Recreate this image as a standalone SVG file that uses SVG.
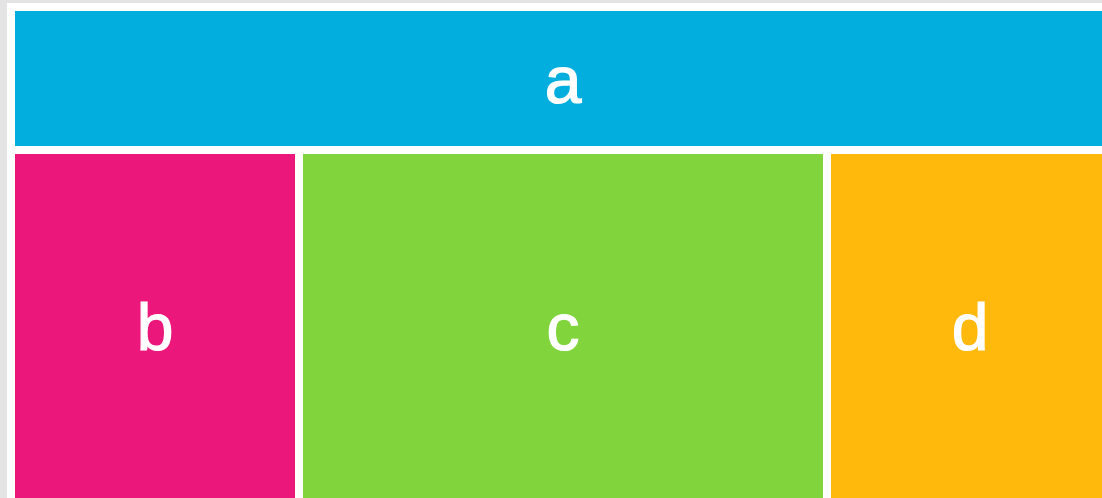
<svg xmlns="http://www.w3.org/2000/svg" width="1102" height="498" viewBox="0 0 1102 498">
<style>
.lbl{font-family:"Liberation Sans",Arial,sans-serif;font-size:66px;fill:#ffffff;stroke:#ffffff;stroke-width:1.2px;text-anchor:middle}
</style>
<rect x="0" y="0" width="1102" height="498" fill="#e4e4e4"/>
<rect x="7" y="3" width="1110" height="510" fill="#ffffff"/>
<g id="a"><rect x="15" y="11" width="1096" height="135" fill="#02aedd"/><text class="lbl" x="563" y="103">a</text></g>
<g id="b"><rect x="15" y="154" width="280" height="360" fill="#ec177b"/><text class="lbl" x="155" y="350">b</text></g>
<g id="c"><rect x="303" y="154" width="520" height="360" fill="#81d43c"/><text class="lbl" x="563" y="350">c</text></g>
<g id="d"><rect x="831" y="154" width="280" height="360" fill="#ffb80c"/><text class="lbl" x="970" y="350">d</text></g>
<g id="connectors"/>
</svg>
